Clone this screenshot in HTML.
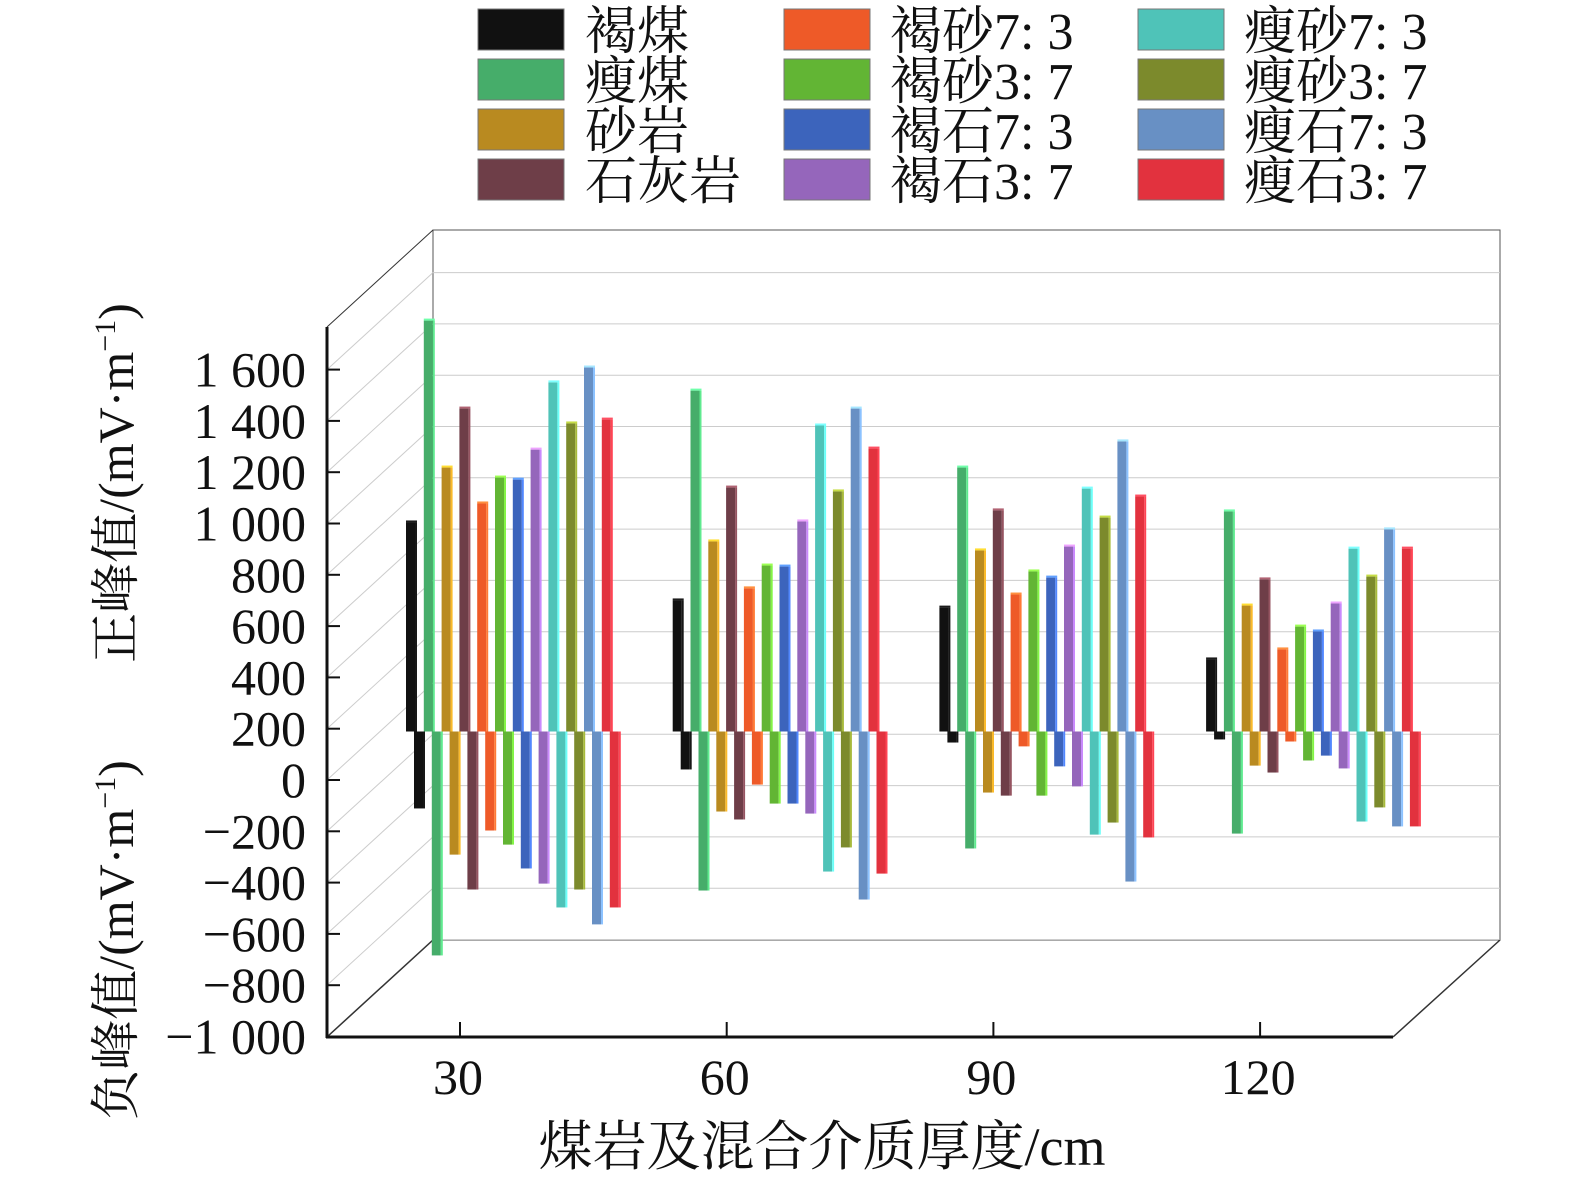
<!DOCTYPE html>
<html><head><meta charset="utf-8"><style>
body{margin:0;background:#fff}
svg text{font-family:"Liberation Serif","Noto Serif CJK SC",serif;fill:#111}
</style></head><body>
<svg id="chart" width="1575" height="1186" xmlns="http://www.w3.org/2000/svg">
<g id="frame"></g>
<g id="bars"></g>
<g id="legend"></g>
<text transform="translate(133,483) rotate(-90)" text-anchor="middle" font-size="50">正峰值/(mV·m<tspan dy="-18" font-size="30">−1</tspan><tspan dy="18">)</tspan></text>
<text transform="translate(133,940) rotate(-90)" text-anchor="middle" font-size="50">负峰值/(mV·m<tspan dy="-18" font-size="30">−1</tspan><tspan dy="18">)</tspan></text>
<text x="822" y="1165" text-anchor="middle" font-size="54">煤岩及混合介质厚度/cm</text>
</svg>
<script>
const categories=["30","60","90","120"];
const seriesNames=["褐煤","瘦煤","砂岩","石灰岩","褐砂7: 3","褐砂3: 7","褐石7: 3","褐石3: 7","瘦砂7: 3","瘦砂3: 7","瘦石7: 3","瘦石3: 7"];
const seriesColors=["#111111","#46ad6a","#b98a20","#6e3e48","#ee5a28","#62b534","#3c64bc","#9566bb","#4fc3b8","#7c8a2c","#6890c4","#e2323e"];
const yTicks=[1600,1400,1200,1000,800,600,400,200,0,-200,-400,-600,-800,-1000];
const yTickLabels=["1 600","1 400","1 200","1 000","800","600","400","200","0","−200","−400","−600","−800","−1 000"];
const positive=[
[815,1602,1029,1259,889,990,982,1099,1361,1201,1419,1216],
[511,1329,741,951,558,647,643,819,1193,936,1259,1103],
[483,1029,706,862,534,624,600,721,947,834,1131,916],
[281,858,491,593,320,409,390,499,713,604,788,713]];
const negative=[
[300,873,480,616,386,441,534,593,686,616,752,686],
[148,620,312,343,207,281,281,320,546,452,655,554],
[43,456,238,250,58,250,136,214,402,355,585,413],
[31,398,133,160,39,113,94,144,351,296,370,370]];
const NS="http://www.w3.org/2000/svg";
const K=0.2565, DX=106, DY=-97;
function yFront(v){return 780-v*K;}
function xFront(i){return 460+i*266.7;}
function mk(p,tag,a){const e=document.createElementNS(NS,tag);for(const k in a)e.setAttribute(k,a[k]);p.appendChild(e);return e;}
const fr=document.getElementById('frame');
mk(fr,'rect',{x:433,y:230,width:1067,height:710,fill:'#fff',stroke:'#555','stroke-width':1});
for(let v=-1000;v<=1600;v+=200){const y=yFront(v)+DY;
 const g=mk(fr,'line',{x1:433,y1:y,x2:1500,y2:y,stroke:'#ccc','stroke-width':1});
 
 mk(fr,'line',{x1:327,y1:yFront(v),x2:433,y2:y,stroke:'#ccc','stroke-width':1});}
mk(fr,'line',{x1:327,y1:327,x2:433,y2:230,stroke:'#333','stroke-width':1});
mk(fr,'line',{x1:327,y1:1037,x2:433,y2:940,stroke:'#333','stroke-width':1.5});
mk(fr,'line',{x1:1393,y1:1037,x2:1500,y2:940,stroke:'#333','stroke-width':1.5});
mk(fr,'line',{x1:327,y1:327,x2:327,y2:1038,stroke:'#111','stroke-width':3});
mk(fr,'line',{x1:326,y1:1037,x2:1393,y2:1037,stroke:'#111','stroke-width':3});
yTicks.forEach((v,i)=>{const y=yFront(v);
 mk(fr,'line',{x1:327,y1:y,x2:340,y2:y,stroke:'#111','stroke-width':2});
 const t=mk(fr,'text',{x:306,y:y+17,'text-anchor':'end','font-size':50});t.textContent=yTickLabels[i];
 });
categories.forEach((c,i)=>{const x=xFront(i);
 mk(fr,'line',{x1:x,y1:1037,x2:x,y2:1022,stroke:'#111','stroke-width':2});
 const t=mk(fr,'text',{x:x-2,y:1094,'text-anchor':'middle','font-size':50});t.textContent=c;
 });
const bg=document.getElementById('bars');
const base=yFront(0)+DY/2;
function shade(h,f){const n=parseInt(h.slice(1),16);let r=n>>16,g=(n>>8)&255,b=n&255;
 r=Math.min(255,Math.round(r*f));g=Math.min(255,Math.round(g*f));b=Math.min(255,Math.round(b*f));return `rgb(${r},${g},${b})`;}
categories.forEach((c,gi)=>{
 seriesNames.forEach((s,si)=>{
  const x=xFront(gi)-54+si*17.8;
  const col=seriesColors[si];
  const hp=positive[gi][si]*K, hn=negative[gi][si]*K;
  const p=mk(bg,'rect',{x:x,y:base-hp,width:9,height:hp,fill:col});
  
  
  mk(bg,'rect',{x:x+9,y:base-hp,width:2,height:hp,fill:shade(col,1.35)});
  mk(bg,'rect',{x:x,y:base-hp-2,width:11,height:2,fill:shade(col,1.6)});
  const n=mk(bg,'rect',{x:x+8,y:base,width:9,height:hn,fill:col});
  
  
  mk(bg,'rect',{x:x+17,y:base,width:2,height:hn,fill:shade(col,1.35)});
 });});
const lg=document.getElementById('legend');
const colX=[478,784,1138], textX=[585,890,1244];
seriesNames.forEach((s,i)=>{const c=Math.floor(i/4), r=i%4;
 const y=9+r*50;
 const sw=mk(lg,'rect',{x:colX[c],y:y,width:86,height:41,fill:seriesColors[i],stroke:'#777','stroke-width':1});
 
 const t=mk(lg,'text',{x:textX[c],y:y+40,'font-size':52});t.textContent=s;
 });
</script>
</body></html>
